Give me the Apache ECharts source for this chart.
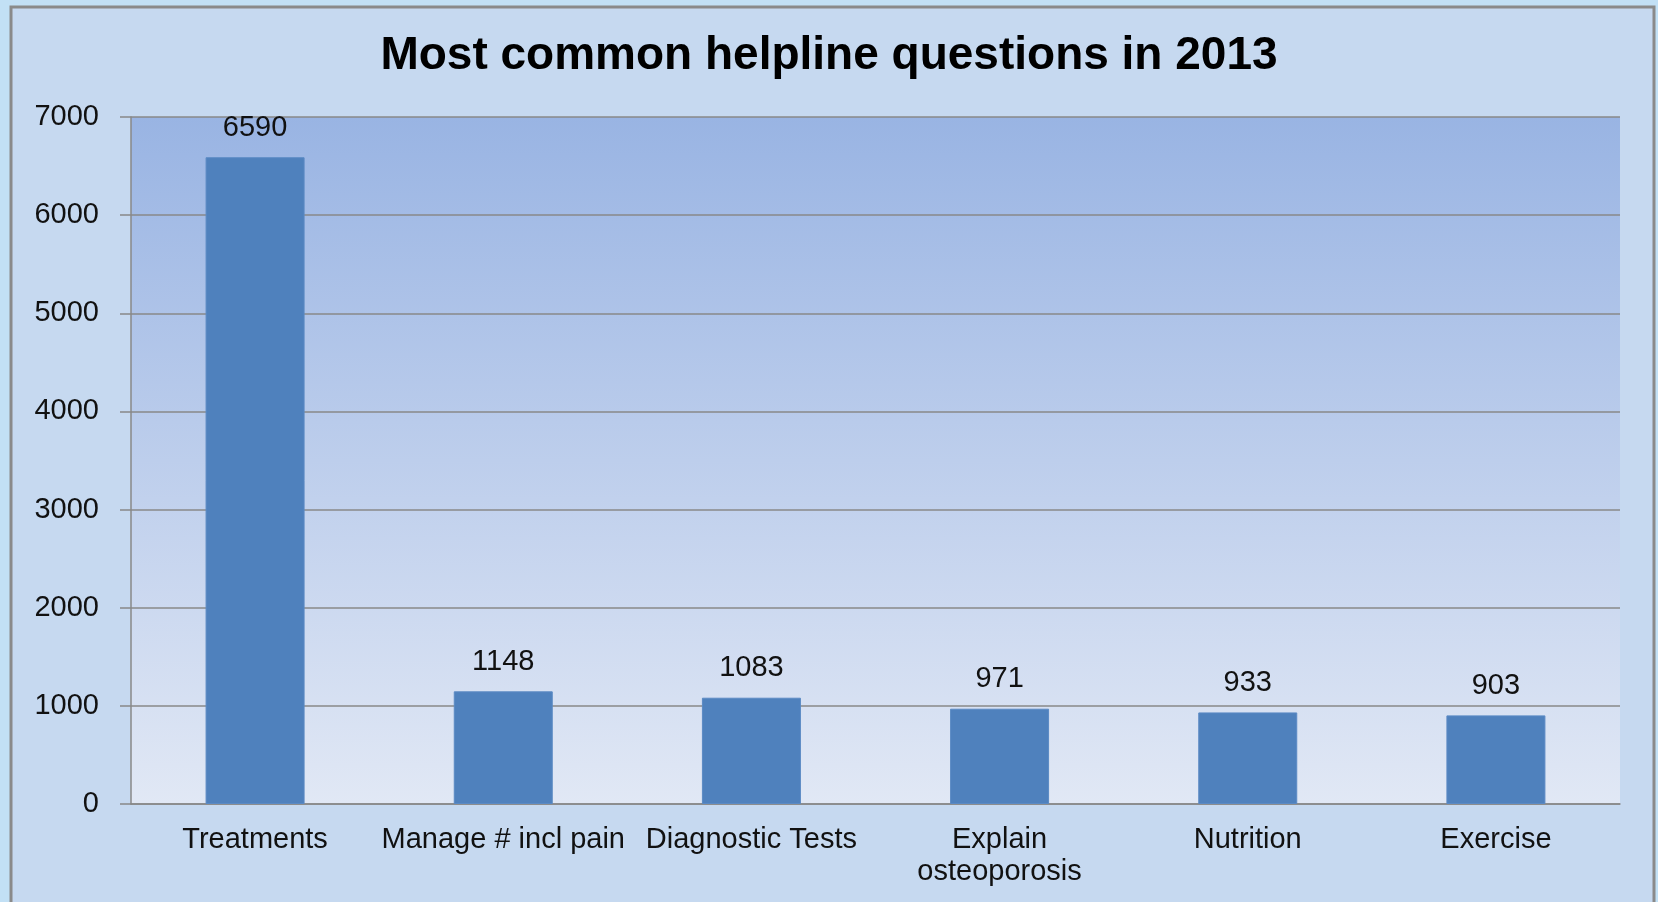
<!DOCTYPE html>
<html>
<head>
<meta charset="utf-8">
<script src="https://cdn.jsdelivr.net/npm/echarts@6/dist/echarts.min.js"></script>
<style>
  html, body { margin: 0; padding: 0; background: #c2e0f5; }
  #chart { width: 1658px; height: 902px; }
</style>
</head>
<body>
<div id="chart"></div>
<script>
// helpline questions, 2013
const categories = ["Treatments", "Manage # incl pain", "Diagnostic Tests", "Explain\nosteoporosis", "Nutrition", "Exercise"];
const questionCounts = [6590, 1148, 1083, 971, 933, 903];
const yTicks = [0, 1000, 2000, 3000, 4000, 5000, 6000, 7000];

let myChart = echarts.init(document.getElementById("chart"));

let option = {
    backgroundColor: "#c2e0f5",
    animation: false,
    graphic: [
        {
            type: "rect",
            z: -10,
            shape: { x: 11, y: 7, width: 1643, height: 910 },
            style: { fill: "#c6d9f0", stroke: "#8a8a8a", lineWidth: 3 }
        }
    ],
    title: {
        text: "Most common helpline questions in 2013",
        left: "center",
        top: 28,
        textStyle: {
            fontFamily: "Liberation Sans",
            fontWeight: "bold",
            fontSize: 46,
            color: "#000"
        }
    },
    grid: {
        left: 131,
        top: 117,
        right: 38,
        bottom: 98,
        show: true,
        borderWidth: 0,
        backgroundColor: new echarts.graphic.LinearGradient(0, 0, 0, 1, [
            { offset: 0, color: "#99b4e3" },
            { offset: 1, color: "#e1e8f5" }
        ])
    },
    xAxis: {
        type: "category",
        data: categories,
        axisLine: { lineStyle: { color: "#888", width: 1.5 } },
        axisTick: { length: 9, lineStyle: { color: "#888", width: 1.5 } },
        axisLabel: {
            margin: 20,
            fontFamily: "Liberation Sans",
            fontSize: 29,
            lineHeight: 32,
            color: "#111",
            interval: 0
        }
    },
    yAxis: {
        type: "value",
        min: yTicks[0],
        max: yTicks[yTicks.length - 1],
        interval: 1000,
        axisLine: { show: true, lineStyle: { color: "#888", width: 1.5 } },
        axisTick: { show: true, length: 11, lineStyle: { color: "#888", width: 1.5 } },
        splitLine: { lineStyle: { color: "#888", width: 1.5 } },
        axisLabel: {
            margin: 32,
            fontFamily: "Liberation Sans",
            fontSize: 29,
            color: "#111",
            formatter: function (v) { return String(v); }
        }
    },
    series: [
        {
            type: "bar",
            data: questionCounts,
            barWidth: 99,
            itemStyle: { color: "#4f81bd", borderColor: "#5b8ac4", borderWidth: 1 },
            label: {
                show: true,
                position: "top",
                distance: 15,
                fontFamily: "Liberation Sans",
                fontSize: 29,
                color: "#111"
            }
        }
    ]
};

myChart.setOption(option);
</script>
</body>
</html>
